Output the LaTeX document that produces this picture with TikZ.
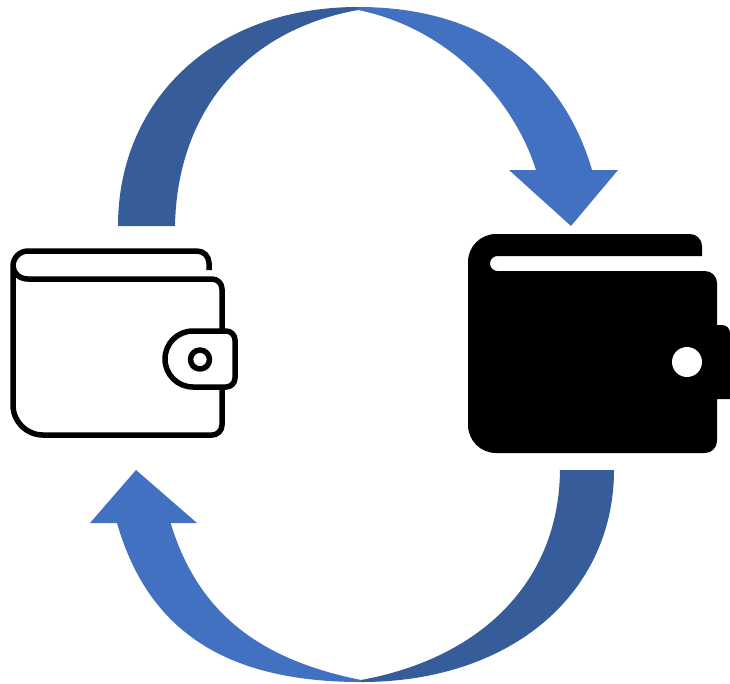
\documentclass[tikz,border=0pt]{standalone}
\definecolor{bandDark}{HTML}{365C9A}
\definecolor{bandBlue}{HTML}{4271C2}
\tikzset{
  darkband/.style={fill=bandDark,draw=none},
  blueband/.style={fill=bandBlue,draw=none},
  walletline/.style={draw=black,line width=5.5pt,line cap=butt,line join=round,fill=white}
}
\begin{document}
\begin{tikzpicture}[x=1pt,y=-1pt]
\useasboundingbox (0,0) rectangle (730,683);
% top arrow
\path[blueband] (358,7) .. controls (486,7) and (563.4,72) .. (592,170)
  -- (618,170) -- (571,226) -- (509,170) -- (536,170)
  .. controls (513.5,98.75) and (448,28) .. (358,10) -- cycle;
\path[darkband] (118,226) .. controls (118,101) and (213,7) .. (358,7)
  -- (358,10) .. controls (243,30.7) and (177,114) .. (175,226) -- cycle;
% bottom arrow
\path[blueband] (361,682) .. controls (221,682) and (147,627) .. (117,523)
  -- (90,523) -- (136,470) -- (197,523) -- (170.6,523)
  .. controls (196,606) and (251,658) .. (361,680) -- cycle;
\path[darkband] (614,470) .. controls (614,591) and (514,682) .. (361,682)
  -- (361,680) .. controls (481,658) and (559,582) .. (560,470) -- cycle;
% outline wallet
\draw[walletline] (13,266) -- (13,405) arc[start angle=180,end angle=90,radius=30]
  -- (212,435) arc[start angle=90,end angle=0,radius=10]
  -- (222,289) arc[start angle=0,end angle=-90,radius=10]
  -- (28,279) arc[start angle=90,end angle=180,x radius=15,y radius=13];
\draw[walletline,fill=none] (209,270) -- (209,263) arc[start angle=0,end angle=-90,radius=12]
  -- (28,251) arc[start angle=-90,end angle=-180,radius=15];
\draw[walletline] (193,331) -- (226,331) arc[start angle=-90,end angle=0,radius=9]
  -- (235,378) arc[start angle=0,end angle=90,radius=9]
  -- (193,387) arc[start angle=90,end angle=270,radius=28] -- cycle;
\draw[walletline] (200,359.5) circle[radius=9.5];
% solid wallet
\fill[black] (496,234) -- (690,234) arc[start angle=-90,end angle=0,radius=12]
  -- (702,256) -- (497.5,256) arc[start angle=270,end angle=90,radius=7.5]
  -- (705,271) arc[start angle=-90,end angle=0,radius=12]
  -- (717,325) -- (722,325) arc[start angle=-90,end angle=0,radius=8]
  -- (730,399) -- (717,399) -- (717,441) arc[start angle=0,end angle=90,radius=12]
  -- (496,453) arc[start angle=90,end angle=180,radius=28]
  -- (468,262) arc[start angle=180,end angle=270,radius=28] -- cycle;
\fill[white] (687,362) circle[radius=15];
\end{tikzpicture}
\end{document}
